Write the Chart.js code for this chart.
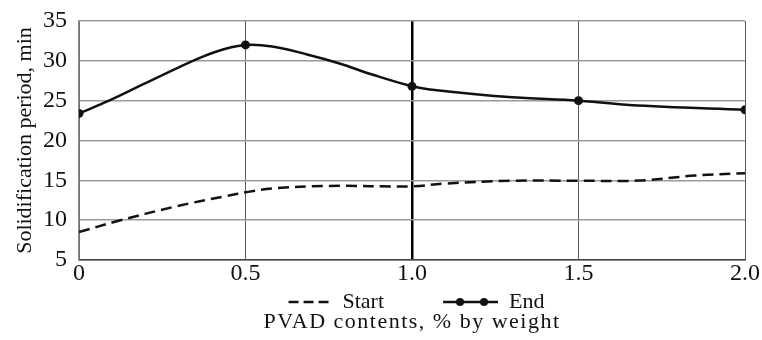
<!DOCTYPE html>
<html><head><meta charset="utf-8">
<script src="https://cdn.jsdelivr.net/npm/chart.js@4.4.1/dist/chart.umd.min.js"></script>
<style>html,body{margin:0;padding:0;background:#fff}canvas{display:block}</style>
</head><body>
<canvas id="c" width="762" height="340"></canvas>
<script>
// ---- data ----
const xTickValues = [0, 0.5, 1.0, 1.5, 2.0];
const xTickLabels = ['0', '0.5', '1.0', '1.5', '2.0'];
const yTickValues = [5, 10, 15, 20, 25, 30, 35];
const seriesNames = ['Start', 'End'];
const startX = [0, 0.108, 0.288, 0.438, 0.508, 0.58, 0.75, 1.0, 1.1, 1.3, 1.5, 1.68, 1.85, 2.0];
const startY = [8.5, 9.8, 11.7, 13.0, 13.55, 13.97, 14.3, 14.25, 14.6, 14.95, 14.95, 14.97, 15.6, 15.9];
const endX = [0, 0.09, 0.19, 0.29, 0.37, 0.43, 0.5, 0.58, 0.685, 0.78, 0.883, 1.0, 1.054, 1.29, 1.5, 1.7, 2.0];
const endY = [23.4, 25.0, 27.0, 29.0, 30.5, 31.4, 32.0, 31.8, 30.8, 29.7, 28.25, 26.8, 26.4, 25.45, 25.0, 24.35, 23.85];
const markerX = [0, 0.5, 1.0, 1.5, 2.0];
const highlightX = 1.0;
const xTitle = 'PVAD contents, % by weight';
const yTitle = 'Solidification period, min';

const FONT = "'Liberation Serif', 'Times New Roman', serif";
Chart.defaults.font.family = FONT;
Chart.defaults.color = '#111';

const toPts = (xs, ys) => xs.map((x, i) => ({x, y: ys[i]}));

// legend sample images
const SW = 112;
function sampleStart() {
  const c = document.createElement('canvas'); c.width = SW; c.height = 12;
  const g = c.getContext('2d');
  g.strokeStyle = '#111'; g.lineWidth = 2.5; g.setLineDash([10, 5]);
  g.beginPath(); g.moveTo(SW - 43, 6); g.lineTo(SW, 6); g.stroke();
  return c;
}
function sampleEnd() {
  const c = document.createElement('canvas'); c.width = SW; c.height = 12;
  const g = c.getContext('2d');
  g.strokeStyle = '#111'; g.fillStyle = '#111'; g.lineWidth = 2.5;
  g.beginPath(); g.moveTo(SW - 55, 6); g.lineTo(SW, 6); g.stroke();
  [SW - 38, SW - 14].forEach(cx => { g.beginPath(); g.arc(cx, 6, 4, 0, Math.PI * 2); g.fill(); });
  return c;
}
const samples = [sampleStart(), sampleEnd()];

const spacedTitle = {
  id: 'spacedTitle',
  afterInit(chart) {
    const tb = chart.titleBlock;
    if (!tb) return;
    const orig = tb.draw.bind(tb);
    tb.draw = function(a) {
      const ctx = chart.ctx; ctx.save();
      try { ctx.letterSpacing = '1.5px'; } catch (e) {}
      orig(a); ctx.restore();
    };
  }
};

new Chart(document.getElementById('c'), {
  type: 'line',
  data: {
    datasets: [
      {
        label: seriesNames[0], data: toPts(startX, startY),
        borderColor: '#111', borderWidth: 2.5, borderDash: [11, 6],
        pointRadius: 0, tension: 0.4, fill: false
      },
      {
        label: seriesNames[1], data: toPts(endX, endY),
        borderColor: '#111', backgroundColor: '#111', borderWidth: 2.5,
        pointRadius: ctx => markerX.includes(ctx.raw && ctx.raw.x) ? 4.5 : 0,
        pointBackgroundColor: '#111', pointBorderWidth: 0,
        tension: 0.4, fill: false
      }
    ]
  },
  options: {
    responsive: false, animation: false,
    layout: { padding: { top: 21, right: 17, left: 19, bottom: 0 } },
    scales: {
      x: {
        type: 'linear', min: 0, max: 2,
        afterBuildTicks: s => { s.ticks = xTickValues.map(v => ({value: v})); },
        afterFit: s => { s.height = 29; },
        ticks: {
          callback: (v) => xTickLabels[xTickValues.indexOf(v)] ?? '',
          font: { size: 24, lineHeight: 1 }, padding: 2, maxRotation: 0, autoSkip: false
        },
        grid: {
          drawTicks: false,
          color: c => (c.tick && c.tick.value === highlightX) ? '#000' : '#5a5a5a',
          lineWidth: c => (c.tick && c.tick.value === highlightX) ? 2.5 : 1
        },
        border: { color: '#444', width: 1.5 }
      },
      y: {
        min: 5, max: 35,
        afterBuildTicks: s => { s.ticks = yTickValues.map(v => ({value: v})); },
        afterFit: s => { s.width = 60; },
        ticks: { font: { size: 24, lineHeight: 0.5 }, padding: 12 },
        grid: { drawTicks: false, color: '#9a9a9a', lineWidth: 1.5 },
        border: { color: '#8a8a8a', width: 1.5 },
        title: { display: true, text: yTitle, font: { size: 22, lineHeight: 1 }, padding: { top: -5, bottom: 0 } }
      }
    },
    plugins: {
      legend: {
        position: 'bottom', fullSize: true,
        labels: {
          usePointStyle: true, pointStyleWidth: SW, padding: 2,
          font: { size: 22 }, color: '#111',
          generateLabels: chart => {
            const items = Chart.defaults.plugins.legend.labels.generateLabels(chart);
            items.forEach((it, i) => { it.pointStyle = samples[i]; });
            return items;
          }
        }
      },
      title: {
        display: true, position: 'bottom', fullSize: false, text: xTitle,
        font: { size: 22, weight: 'normal', lineHeight: 1.2 }, color: '#111',
        padding: { top: -14.2, bottom: 4.8 }
      },
      tooltip: { enabled: false }
    }
  },
  plugins: [spacedTitle]
});
</script>
</body></html>
